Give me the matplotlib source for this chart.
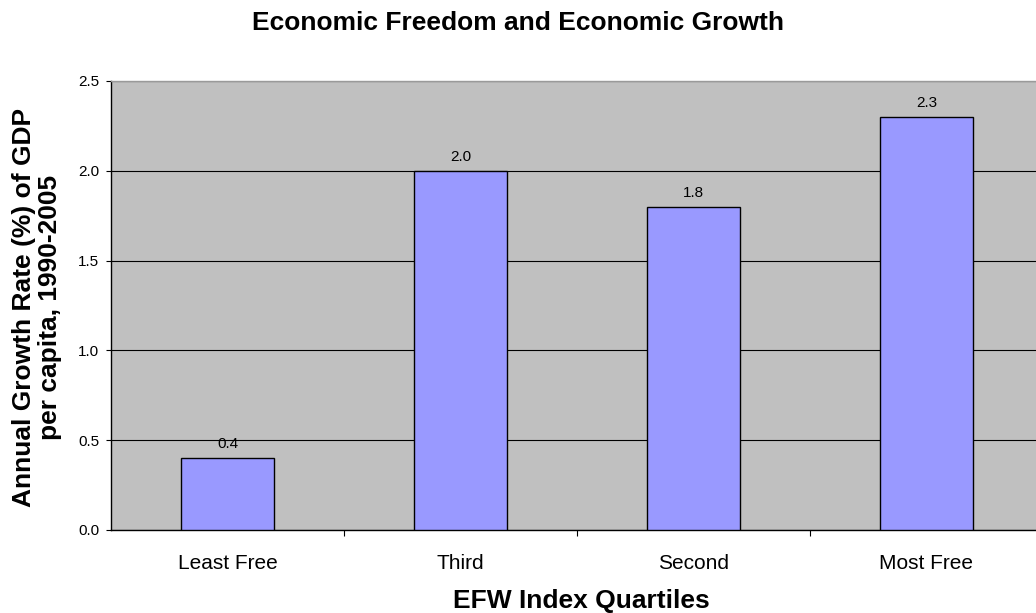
import numpy as np
import matplotlib.pyplot as plt
from matplotlib.ticker import FixedLocator, NullFormatter

plt.rcParams['font.family'] = ['Liberation Sans', 'DejaVu Sans']

# 数据
quartiles = ['Least Free', 'Third', 'Second', 'Most Free']
growth = [0.4, 2.0, 1.8, 2.3]
value_labels = ['0.4', '2.0', '1.8', '2.3']
y_ticks = [0.0, 0.5, 1.0, 1.5, 2.0, 2.5]

fig = plt.figure(figsize=(10.36, 6.13), dpi=100)
ax = fig.add_axes([0.1071, 0.1354, 0.8996, 0.7325])
ax.set_facecolor('#C0C0C0')

x = np.arange(len(quartiles))
ax.bar(x, growth, width=0.40, color='#9999FF', edgecolor='black',
       linewidth=1.0, zorder=3)

# 柱顶数值
for xi, v, s in zip(x, growth, value_labels):
    ax.annotate(s, (xi, v), xytext=(0, 10), textcoords='offset points',
                ha='center', va='center', fontsize=11, zorder=4)

ax.set_xlim(-0.5, 3.5)
ax.set_ylim(0, 2.5)

# y轴
ax.set_yticks(y_ticks)
ax.set_yticklabels(['%.1f' % t for t in y_ticks], fontsize=11)
ax.yaxis.grid(True, color='black', linewidth=0.8, zorder=1)
ax.tick_params(axis='y', length=3.6, direction='out', width=0.8, pad=5)

# x轴: 刻度线在类别之间
ax.set_xticks(x)
ax.set_xticklabels(quartiles, fontsize=15)
ax.tick_params(axis='x', which='major', length=0, pad=17)
ax.xaxis.set_minor_locator(FixedLocator([0.5, 1.5, 2.5]))
ax.xaxis.set_minor_formatter(NullFormatter())
ax.tick_params(axis='x', which='minor', length=4, direction='out', width=0.8)

for side in ['left', 'bottom']:
    ax.spines[side].set_color('black')
    ax.spines[side].set_linewidth(1.0)
ax.spines['top'].set_color('#9A9A9A')
ax.spines['top'].set_linewidth(1.0)
ax.spines['right'].set_visible(False)

fig.text(0.5, 0.962, 'Economic Freedom and Economic Growth', ha='center', va='center',
         fontsize=19, fontweight='bold')
fig.text(0.5616, 1 - 601 / 613, 'EFW Index Quartiles', ha='center', va='center',
         fontsize=19, fontweight='bold')
fig.text(37 / 1036, 1 - 307 / 613, 'Annual Growth Rate (%) of GDP\nper capita, 1990-2005',
         ha='center', va='center', rotation=90, multialignment='center',
         fontsize=19, fontweight='bold', linespacing=1.1)

fig.savefig('out.png', dpi=100)
